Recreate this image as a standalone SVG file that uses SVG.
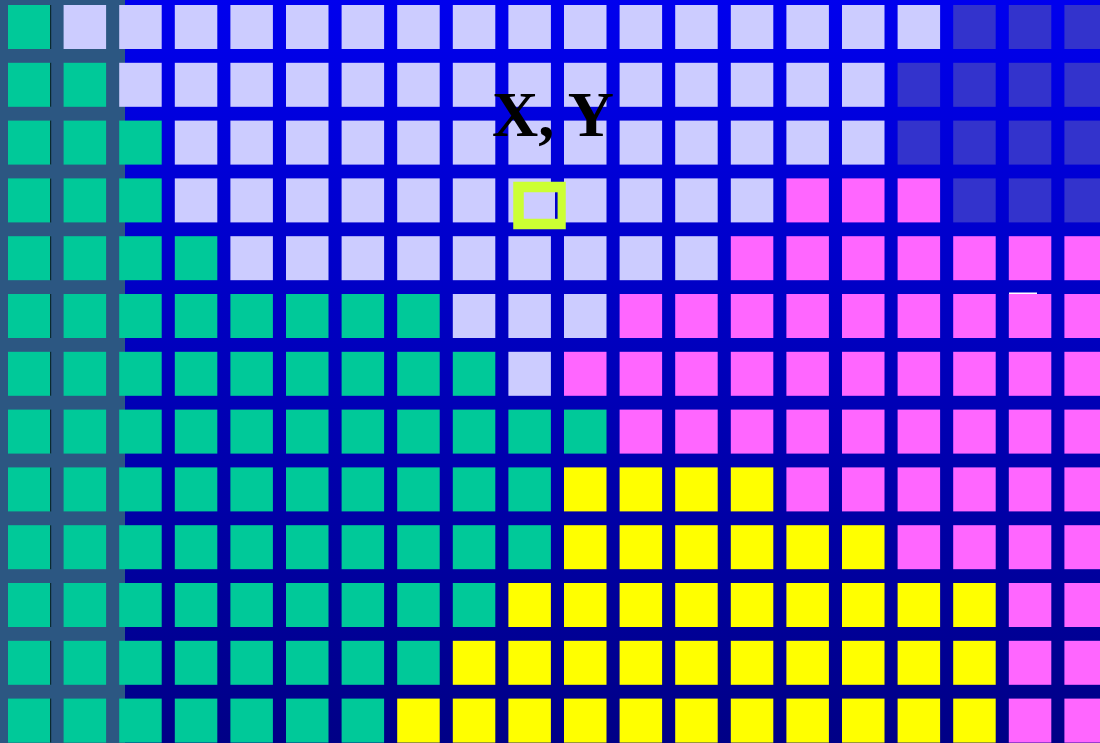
<svg xmlns="http://www.w3.org/2000/svg" width="1100" height="743" viewBox="0 0 1100 743">
<defs>
<linearGradient id="bg" x1="0" y1="0" x2="0" y2="1">
<stop offset="0" stop-color="#0000EE"/>
<stop offset="1" stop-color="#000086"/>
</linearGradient>
<style>
.g{fill:#00C999}.l{fill:#CCCCFF}.d{fill:#3333CC}.p{fill:#FF66FF}.y{fill:#FFFF00}
.t{font-family:"Liberation Serif","Times New Roman",serif;font-weight:bold;font-size:64px;fill:#000}
</style>
</defs>
<rect width="1100" height="743" fill="url(#bg)"/>
<rect width="125" height="743" fill="#2C5782"/>
<g id="row0">
<rect x="8" y="5" width="42.5" height="44" class="g"/><rect x="63.6" y="5" width="42.5" height="44" class="l"/><rect x="119.2" y="5" width="42.5" height="44" class="l"/><rect x="174.8" y="5" width="42.5" height="44" class="l"/><rect x="230.4" y="5" width="42.5" height="44" class="l"/><rect x="286" y="5" width="42.5" height="44" class="l"/><rect x="341.6" y="5" width="42.5" height="44" class="l"/><rect x="397.2" y="5" width="42.5" height="44" class="l"/><rect x="452.8" y="5" width="42.5" height="44" class="l"/><rect x="508.4" y="5" width="42.5" height="44" class="l"/><rect x="564" y="5" width="42.5" height="44" class="l"/><rect x="619.6" y="5" width="42.5" height="44" class="l"/><rect x="675.2" y="5" width="42.5" height="44" class="l"/><rect x="730.8" y="5" width="42.5" height="44" class="l"/><rect x="786.4" y="5" width="42.5" height="44" class="l"/><rect x="842" y="5" width="42.5" height="44" class="l"/><rect x="897.6" y="5" width="42.5" height="44" class="l"/><rect x="953.2" y="5" width="42.5" height="44" class="d"/><rect x="1008.8" y="5" width="42.5" height="44" class="d"/><rect x="1064.4" y="5" width="42.5" height="44" class="d"/>
</g>
<g id="row1">
<rect x="8" y="62.8" width="42.5" height="44" class="g"/><rect x="63.6" y="62.8" width="42.5" height="44" class="g"/><rect x="119.2" y="62.8" width="42.5" height="44" class="l"/><rect x="174.8" y="62.8" width="42.5" height="44" class="l"/><rect x="230.4" y="62.8" width="42.5" height="44" class="l"/><rect x="286" y="62.8" width="42.5" height="44" class="l"/><rect x="341.6" y="62.8" width="42.5" height="44" class="l"/><rect x="397.2" y="62.8" width="42.5" height="44" class="l"/><rect x="452.8" y="62.8" width="42.5" height="44" class="l"/><rect x="508.4" y="62.8" width="42.5" height="44" class="l"/><rect x="564" y="62.8" width="42.5" height="44" class="l"/><rect x="619.6" y="62.8" width="42.5" height="44" class="l"/><rect x="675.2" y="62.8" width="42.5" height="44" class="l"/><rect x="730.8" y="62.8" width="42.5" height="44" class="l"/><rect x="786.4" y="62.8" width="42.5" height="44" class="l"/><rect x="842" y="62.8" width="42.5" height="44" class="l"/><rect x="897.6" y="62.8" width="42.5" height="44" class="d"/><rect x="953.2" y="62.8" width="42.5" height="44" class="d"/><rect x="1008.8" y="62.8" width="42.5" height="44" class="d"/><rect x="1064.4" y="62.8" width="42.5" height="44" class="d"/>
</g>
<g id="row2">
<rect x="8" y="120.6" width="42.5" height="44" class="g"/><rect x="63.6" y="120.6" width="42.5" height="44" class="g"/><rect x="119.2" y="120.6" width="42.5" height="44" class="g"/><rect x="174.8" y="120.6" width="42.5" height="44" class="l"/><rect x="230.4" y="120.6" width="42.5" height="44" class="l"/><rect x="286" y="120.6" width="42.5" height="44" class="l"/><rect x="341.6" y="120.6" width="42.5" height="44" class="l"/><rect x="397.2" y="120.6" width="42.5" height="44" class="l"/><rect x="452.8" y="120.6" width="42.5" height="44" class="l"/><rect x="508.4" y="120.6" width="42.5" height="44" class="l"/><rect x="564" y="120.6" width="42.5" height="44" class="l"/><rect x="619.6" y="120.6" width="42.5" height="44" class="l"/><rect x="675.2" y="120.6" width="42.5" height="44" class="l"/><rect x="730.8" y="120.6" width="42.5" height="44" class="l"/><rect x="786.4" y="120.6" width="42.5" height="44" class="l"/><rect x="842" y="120.6" width="42.5" height="44" class="l"/><rect x="897.6" y="120.6" width="42.5" height="44" class="d"/><rect x="953.2" y="120.6" width="42.5" height="44" class="d"/><rect x="1008.8" y="120.6" width="42.5" height="44" class="d"/><rect x="1064.4" y="120.6" width="42.5" height="44" class="d"/>
</g>
<g id="row3">
<rect x="8" y="178.4" width="42.5" height="44" class="g"/><rect x="63.6" y="178.4" width="42.5" height="44" class="g"/><rect x="119.2" y="178.4" width="42.5" height="44" class="g"/><rect x="174.8" y="178.4" width="42.5" height="44" class="l"/><rect x="230.4" y="178.4" width="42.5" height="44" class="l"/><rect x="286" y="178.4" width="42.5" height="44" class="l"/><rect x="341.6" y="178.4" width="42.5" height="44" class="l"/><rect x="397.2" y="178.4" width="42.5" height="44" class="l"/><rect x="452.8" y="178.4" width="42.5" height="44" class="l"/><rect x="508.4" y="178.4" width="42.5" height="44" class="l"/><rect x="564" y="178.4" width="42.5" height="44" class="l"/><rect x="619.6" y="178.4" width="42.5" height="44" class="l"/><rect x="675.2" y="178.4" width="42.5" height="44" class="l"/><rect x="730.8" y="178.4" width="42.5" height="44" class="l"/><rect x="786.4" y="178.4" width="42.5" height="44" class="p"/><rect x="842" y="178.4" width="42.5" height="44" class="p"/><rect x="897.6" y="178.4" width="42.5" height="44" class="p"/><rect x="953.2" y="178.4" width="42.5" height="44" class="d"/><rect x="1008.8" y="178.4" width="42.5" height="44" class="d"/><rect x="1064.4" y="178.4" width="42.5" height="44" class="d"/>
</g>
<g id="row4">
<rect x="8" y="236.2" width="42.5" height="44" class="g"/><rect x="63.6" y="236.2" width="42.5" height="44" class="g"/><rect x="119.2" y="236.2" width="42.5" height="44" class="g"/><rect x="174.8" y="236.2" width="42.5" height="44" class="g"/><rect x="230.4" y="236.2" width="42.5" height="44" class="l"/><rect x="286" y="236.2" width="42.5" height="44" class="l"/><rect x="341.6" y="236.2" width="42.5" height="44" class="l"/><rect x="397.2" y="236.2" width="42.5" height="44" class="l"/><rect x="452.8" y="236.2" width="42.5" height="44" class="l"/><rect x="508.4" y="236.2" width="42.5" height="44" class="l"/><rect x="564" y="236.2" width="42.5" height="44" class="l"/><rect x="619.6" y="236.2" width="42.5" height="44" class="l"/><rect x="675.2" y="236.2" width="42.5" height="44" class="l"/><rect x="730.8" y="236.2" width="42.5" height="44" class="p"/><rect x="786.4" y="236.2" width="42.5" height="44" class="p"/><rect x="842" y="236.2" width="42.5" height="44" class="p"/><rect x="897.6" y="236.2" width="42.5" height="44" class="p"/><rect x="953.2" y="236.2" width="42.5" height="44" class="p"/><rect x="1008.8" y="236.2" width="42.5" height="44" class="p"/><rect x="1064.4" y="236.2" width="42.5" height="44" class="p"/>
</g>
<g id="row5">
<rect x="8" y="294" width="42.5" height="44" class="g"/><rect x="63.6" y="294" width="42.5" height="44" class="g"/><rect x="119.2" y="294" width="42.5" height="44" class="g"/><rect x="174.8" y="294" width="42.5" height="44" class="g"/><rect x="230.4" y="294" width="42.5" height="44" class="g"/><rect x="286" y="294" width="42.5" height="44" class="g"/><rect x="341.6" y="294" width="42.5" height="44" class="g"/><rect x="397.2" y="294" width="42.5" height="44" class="g"/><rect x="452.8" y="294" width="42.5" height="44" class="l"/><rect x="508.4" y="294" width="42.5" height="44" class="l"/><rect x="564" y="294" width="42.5" height="44" class="l"/><rect x="619.6" y="294" width="42.5" height="44" class="p"/><rect x="675.2" y="294" width="42.5" height="44" class="p"/><rect x="730.8" y="294" width="42.5" height="44" class="p"/><rect x="786.4" y="294" width="42.5" height="44" class="p"/><rect x="842" y="294" width="42.5" height="44" class="p"/><rect x="897.6" y="294" width="42.5" height="44" class="p"/><rect x="953.2" y="294" width="42.5" height="44" class="p"/><rect x="1008.8" y="294" width="42.5" height="44" class="p"/><rect x="1064.4" y="294" width="42.5" height="44" class="p"/>
</g>
<g id="row6">
<rect x="8" y="351.8" width="42.5" height="44" class="g"/><rect x="63.6" y="351.8" width="42.5" height="44" class="g"/><rect x="119.2" y="351.8" width="42.5" height="44" class="g"/><rect x="174.8" y="351.8" width="42.5" height="44" class="g"/><rect x="230.4" y="351.8" width="42.5" height="44" class="g"/><rect x="286" y="351.8" width="42.5" height="44" class="g"/><rect x="341.6" y="351.8" width="42.5" height="44" class="g"/><rect x="397.2" y="351.8" width="42.5" height="44" class="g"/><rect x="452.8" y="351.8" width="42.5" height="44" class="g"/><rect x="508.4" y="351.8" width="42.5" height="44" class="l"/><rect x="564" y="351.8" width="42.5" height="44" class="p"/><rect x="619.6" y="351.8" width="42.5" height="44" class="p"/><rect x="675.2" y="351.8" width="42.5" height="44" class="p"/><rect x="730.8" y="351.8" width="42.5" height="44" class="p"/><rect x="786.4" y="351.8" width="42.5" height="44" class="p"/><rect x="842" y="351.8" width="42.5" height="44" class="p"/><rect x="897.6" y="351.8" width="42.5" height="44" class="p"/><rect x="953.2" y="351.8" width="42.5" height="44" class="p"/><rect x="1008.8" y="351.8" width="42.5" height="44" class="p"/><rect x="1064.4" y="351.8" width="42.5" height="44" class="p"/>
</g>
<g id="row7">
<rect x="8" y="409.6" width="42.5" height="44" class="g"/><rect x="63.6" y="409.6" width="42.5" height="44" class="g"/><rect x="119.2" y="409.6" width="42.5" height="44" class="g"/><rect x="174.8" y="409.6" width="42.5" height="44" class="g"/><rect x="230.4" y="409.6" width="42.5" height="44" class="g"/><rect x="286" y="409.6" width="42.5" height="44" class="g"/><rect x="341.6" y="409.6" width="42.5" height="44" class="g"/><rect x="397.2" y="409.6" width="42.5" height="44" class="g"/><rect x="452.8" y="409.6" width="42.5" height="44" class="g"/><rect x="508.4" y="409.6" width="42.5" height="44" class="g"/><rect x="564" y="409.6" width="42.5" height="44" class="g"/><rect x="619.6" y="409.6" width="42.5" height="44" class="p"/><rect x="675.2" y="409.6" width="42.5" height="44" class="p"/><rect x="730.8" y="409.6" width="42.5" height="44" class="p"/><rect x="786.4" y="409.6" width="42.5" height="44" class="p"/><rect x="842" y="409.6" width="42.5" height="44" class="p"/><rect x="897.6" y="409.6" width="42.5" height="44" class="p"/><rect x="953.2" y="409.6" width="42.5" height="44" class="p"/><rect x="1008.8" y="409.6" width="42.5" height="44" class="p"/><rect x="1064.4" y="409.6" width="42.5" height="44" class="p"/>
</g>
<g id="row8">
<rect x="8" y="467.4" width="42.5" height="44" class="g"/><rect x="63.6" y="467.4" width="42.5" height="44" class="g"/><rect x="119.2" y="467.4" width="42.5" height="44" class="g"/><rect x="174.8" y="467.4" width="42.5" height="44" class="g"/><rect x="230.4" y="467.4" width="42.5" height="44" class="g"/><rect x="286" y="467.4" width="42.5" height="44" class="g"/><rect x="341.6" y="467.4" width="42.5" height="44" class="g"/><rect x="397.2" y="467.4" width="42.5" height="44" class="g"/><rect x="452.8" y="467.4" width="42.5" height="44" class="g"/><rect x="508.4" y="467.4" width="42.5" height="44" class="g"/><rect x="564" y="467.4" width="42.5" height="44" class="y"/><rect x="619.6" y="467.4" width="42.5" height="44" class="y"/><rect x="675.2" y="467.4" width="42.5" height="44" class="y"/><rect x="730.8" y="467.4" width="42.5" height="44" class="y"/><rect x="786.4" y="467.4" width="42.5" height="44" class="p"/><rect x="842" y="467.4" width="42.5" height="44" class="p"/><rect x="897.6" y="467.4" width="42.5" height="44" class="p"/><rect x="953.2" y="467.4" width="42.5" height="44" class="p"/><rect x="1008.8" y="467.4" width="42.5" height="44" class="p"/><rect x="1064.4" y="467.4" width="42.5" height="44" class="p"/>
</g>
<g id="row9">
<rect x="8" y="525.2" width="42.5" height="44" class="g"/><rect x="63.6" y="525.2" width="42.5" height="44" class="g"/><rect x="119.2" y="525.2" width="42.5" height="44" class="g"/><rect x="174.8" y="525.2" width="42.5" height="44" class="g"/><rect x="230.4" y="525.2" width="42.5" height="44" class="g"/><rect x="286" y="525.2" width="42.5" height="44" class="g"/><rect x="341.6" y="525.2" width="42.5" height="44" class="g"/><rect x="397.2" y="525.2" width="42.5" height="44" class="g"/><rect x="452.8" y="525.2" width="42.5" height="44" class="g"/><rect x="508.4" y="525.2" width="42.5" height="44" class="g"/><rect x="564" y="525.2" width="42.5" height="44" class="y"/><rect x="619.6" y="525.2" width="42.5" height="44" class="y"/><rect x="675.2" y="525.2" width="42.5" height="44" class="y"/><rect x="730.8" y="525.2" width="42.5" height="44" class="y"/><rect x="786.4" y="525.2" width="42.5" height="44" class="y"/><rect x="842" y="525.2" width="42.5" height="44" class="y"/><rect x="897.6" y="525.2" width="42.5" height="44" class="p"/><rect x="953.2" y="525.2" width="42.5" height="44" class="p"/><rect x="1008.8" y="525.2" width="42.5" height="44" class="p"/><rect x="1064.4" y="525.2" width="42.5" height="44" class="p"/>
</g>
<g id="row10">
<rect x="8" y="583" width="42.5" height="44" class="g"/><rect x="63.6" y="583" width="42.5" height="44" class="g"/><rect x="119.2" y="583" width="42.5" height="44" class="g"/><rect x="174.8" y="583" width="42.5" height="44" class="g"/><rect x="230.4" y="583" width="42.5" height="44" class="g"/><rect x="286" y="583" width="42.5" height="44" class="g"/><rect x="341.6" y="583" width="42.5" height="44" class="g"/><rect x="397.2" y="583" width="42.5" height="44" class="g"/><rect x="452.8" y="583" width="42.5" height="44" class="g"/><rect x="508.4" y="583" width="42.5" height="44" class="y"/><rect x="564" y="583" width="42.5" height="44" class="y"/><rect x="619.6" y="583" width="42.5" height="44" class="y"/><rect x="675.2" y="583" width="42.5" height="44" class="y"/><rect x="730.8" y="583" width="42.5" height="44" class="y"/><rect x="786.4" y="583" width="42.5" height="44" class="y"/><rect x="842" y="583" width="42.5" height="44" class="y"/><rect x="897.6" y="583" width="42.5" height="44" class="y"/><rect x="953.2" y="583" width="42.5" height="44" class="y"/><rect x="1008.8" y="583" width="42.5" height="44" class="p"/><rect x="1064.4" y="583" width="42.5" height="44" class="p"/>
</g>
<g id="row11">
<rect x="8" y="640.8" width="42.5" height="44" class="g"/><rect x="63.6" y="640.8" width="42.5" height="44" class="g"/><rect x="119.2" y="640.8" width="42.5" height="44" class="g"/><rect x="174.8" y="640.8" width="42.5" height="44" class="g"/><rect x="230.4" y="640.8" width="42.5" height="44" class="g"/><rect x="286" y="640.8" width="42.5" height="44" class="g"/><rect x="341.6" y="640.8" width="42.5" height="44" class="g"/><rect x="397.2" y="640.8" width="42.5" height="44" class="g"/><rect x="452.8" y="640.8" width="42.5" height="44" class="y"/><rect x="508.4" y="640.8" width="42.5" height="44" class="y"/><rect x="564" y="640.8" width="42.5" height="44" class="y"/><rect x="619.6" y="640.8" width="42.5" height="44" class="y"/><rect x="675.2" y="640.8" width="42.5" height="44" class="y"/><rect x="730.8" y="640.8" width="42.5" height="44" class="y"/><rect x="786.4" y="640.8" width="42.5" height="44" class="y"/><rect x="842" y="640.8" width="42.5" height="44" class="y"/><rect x="897.6" y="640.8" width="42.5" height="44" class="y"/><rect x="953.2" y="640.8" width="42.5" height="44" class="y"/><rect x="1008.8" y="640.8" width="42.5" height="44" class="p"/><rect x="1064.4" y="640.8" width="42.5" height="44" class="p"/>
</g>
<g id="row12">
<rect x="8" y="698.6" width="42.5" height="44" class="g"/><rect x="63.6" y="698.6" width="42.5" height="44" class="g"/><rect x="119.2" y="698.6" width="42.5" height="44" class="g"/><rect x="174.8" y="698.6" width="42.5" height="44" class="g"/><rect x="230.4" y="698.6" width="42.5" height="44" class="g"/><rect x="286" y="698.6" width="42.5" height="44" class="g"/><rect x="341.6" y="698.6" width="42.5" height="44" class="g"/><rect x="397.2" y="698.6" width="42.5" height="44" class="y"/><rect x="452.8" y="698.6" width="42.5" height="44" class="y"/><rect x="508.4" y="698.6" width="42.5" height="44" class="y"/><rect x="564" y="698.6" width="42.5" height="44" class="y"/><rect x="619.6" y="698.6" width="42.5" height="44" class="y"/><rect x="675.2" y="698.6" width="42.5" height="44" class="y"/><rect x="730.8" y="698.6" width="42.5" height="44" class="y"/><rect x="786.4" y="698.6" width="42.5" height="44" class="y"/><rect x="842" y="698.6" width="42.5" height="44" class="y"/><rect x="897.6" y="698.6" width="42.5" height="44" class="y"/><rect x="953.2" y="698.6" width="42.5" height="44" class="y"/><rect x="1008.8" y="698.6" width="42.5" height="44" class="p"/><rect x="1064.4" y="698.6" width="42.5" height="44" class="p"/>
</g>
<path d="M50.6 5v44M50.6 62.8v44M50.6 120.6v44M50.6 178.4v44M50.6 236.2v44M50.6 294v44M50.6 351.8v44M50.6 409.6v44M50.6 467.4v44M50.6 525.2v44M50.6 583v44M50.6 640.8v44M50.6 698.6v44" stroke="#0A2A30" stroke-width="1.2" fill="none"/>
<rect x="1009" y="292.5" width="28" height="1.5" fill="#FFFFFF"/>
<g id="marker">
<rect x="518.5" y="187" width="42" height="37" fill="#CCCCFF" stroke="#CCFF33" stroke-width="10.5"/>
<rect x="555" y="192.3" width="2.6" height="26.5" fill="#0000CC"/>
</g>
<text id="label" x="492" y="136" class="t">X, Y</text>
</svg>
